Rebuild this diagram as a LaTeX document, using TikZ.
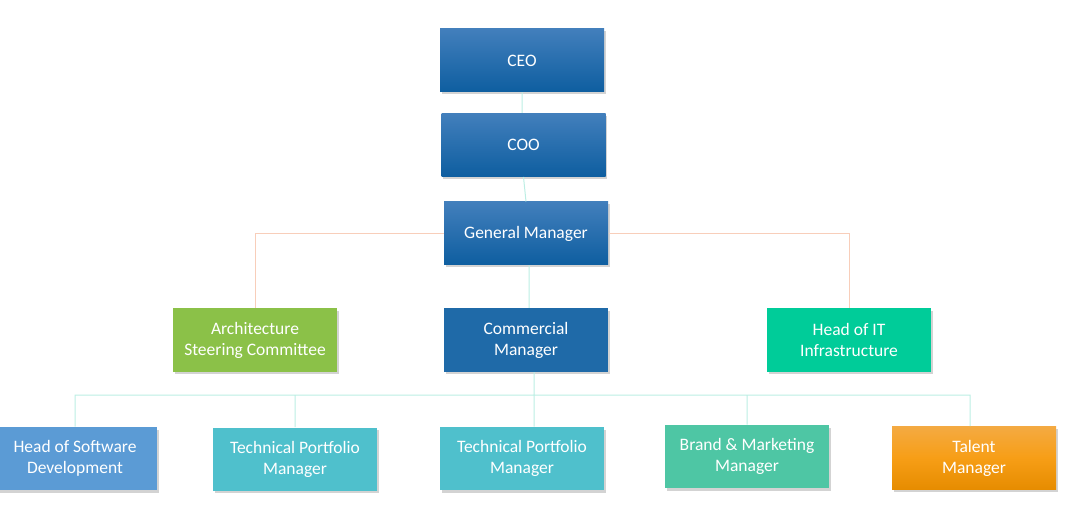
\documentclass[tikz,border=0pt]{standalone}
\usepackage{fontspec}
\setmainfont{Carlito}
\usetikzlibrary{calc, shadows}
\definecolor{bluetop}{RGB}{66,127,188}
\definecolor{bluebot}{RGB}{14,94,160}
\definecolor{cmblue}{RGB}{31,106,168}
\definecolor{archgreen}{RGB}{139,193,72}
\definecolor{itgreen}{RGB}{0,204,153}
\definecolor{swblue}{RGB}{91,155,213}
\definecolor{tpcyan}{RGB}{79,192,204}
\definecolor{brgreen}{RGB}{78,198,164}
\definecolor{ortop}{RGB}{244,170,66}
\definecolor{ormid}{RGB}{247,158,22}
\definecolor{orbot}{RGB}{230,140,0}
\definecolor{linecyan}{RGB}{188,238,228}
\definecolor{linepeach}{RGB}{248,206,186}

\begin{document}
\begin{tikzpicture}[x=1bp, y=-1bp, line width=1bp]
            \tikzset{
                box/.style={minimum width=164bp, minimum height=63bp, inner sep=0pt, align=center,
                    text=white, font=\fontsize{17.5bp}{21bp}\selectfont,
                    drop shadow={shadow xshift=1.5bp, shadow yshift=-2.5bp, opacity=0.35}},
                topbox/.style={box, top color=bluetop, bottom color=bluebot},
                flatbox/.style={box, fill=#1},
                link/.style={draw=linecyan},
                sidelink/.style={draw=linepeach}
            };
            \useasboundingbox (0, 0) rectangle (1075, 510);
            % top chain
            \node[topbox] (ceo) at (522, 60.5) {CEO};
            \node[topbox] (coo) at (523.5, 145) {COO};
            \node[topbox] (gm) at (526, 233.5) {General Manager};
            % middle row
            \node[flatbox=archgreen] (arch) at (255, 340) {Architecture\\Steering Committee};
            \node[flatbox=cmblue] (cm) at (526, 340) {Commercial\\Manager};
            \node[flatbox=itgreen] (it) at (849, 340) {Head of IT\\Infrastructure};
            % bottom row
            \node[flatbox=swblue] (sw) at (75, 458.5) {Head of Software\\Development};
            \node[flatbox=tpcyan] (tp1) at (295, 459) {Technical Portfolio\\Manager};
            \node[flatbox=tpcyan] (tp2) at (522, 458.5) {Technical Portfolio\\Manager};
            \node[flatbox=brgreen] (bm) at (747, 456.5) {Brand \& Marketing\\Manager};
            \node[box, top color=ortop, bottom color=orbot, middle color=ormid] (tm) at (974, 458) {Talent\\Manager};
            \coordinate (bus) at (534, 395);
            \path[link]
                (ceo.south) -- (ceo.south |- coo.north)
                (coo.south) -- (gm.north)
                ($(gm.south)+(3, 0)$) -- ($(cm.north)+(3, 0)$)
                (cm.south -| bus) -- (tp2.north -| bus)
                (sw.north) |- (bus) -| ($(tm.north)+(-4, 0)$)
                (tp1.north) -- (tp1.north |- bus)
                (bm.north) -- (bm.north |- bus)
            ;
            \path[sidelink]
                (gm.west) -| (arch.north)
                (gm.east) -| (it.north)
            ;
        \end{tikzpicture}
\end{document}
